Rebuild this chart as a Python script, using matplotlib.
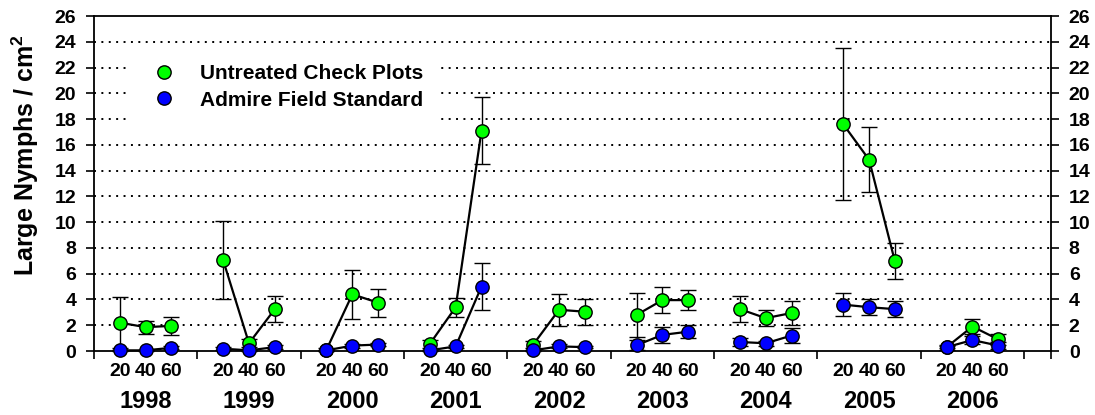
import matplotlib
matplotlib.use('Agg')
from matplotlib import pyplot as plt
from matplotlib.lines import Line2D

plt.rcParams['font.family'] = 'Liberation Sans'
plt.rcParams['font.weight'] = 'bold'
plt.rcParams['mathtext.fontset'] = 'custom'
plt.rcParams['mathtext.bf'] = 'Liberation Sans:bold'
plt.rcParams['mathtext.rm'] = 'Liberation Sans:bold'
plt.rcParams['mathtext.default'] = 'bf'

years = ['1998', '1999', '2000', '2001', '2002', '2003', '2004', '2005', '2006']
days = [20, 40, 60]

# untreated check plots (mean, +/- error)
check_mean = [[2.2, 1.85, 1.95], [7.05, 0.6, 3.25], [0.1, 4.4, 3.75],
              [0.55, 3.4, 17.1], [0.5, 3.2, 3.05], [2.8, 3.95, 3.95],
              [3.25, 2.55, 2.95], [17.6, 14.85, 6.95], [0.3, 1.9, 0.9]]
check_err = [[2.0, 0.5, 0.7], [3.05, 0.3, 1.0], [0.1, 1.9, 1.1],
             [0.3, 0.75, 2.6], [0.3, 1.25, 1.0], [1.7, 1.0, 0.8],
             [1.0, 0.6, 0.9], [5.9, 2.5, 1.4], [0.2, 0.6, 0.4]]

# admire field standard
admire_mean = [[0.05, 0.05, 0.25], [0.18, 0.05, 0.3], [0.05, 0.42, 0.5],
               [0.05, 0.36, 5.0], [0.05, 0.36, 0.3], [0.45, 1.25, 1.5],
               [0.7, 0.6, 1.2], [3.6, 3.4, 3.25], [0.3, 0.85, 0.42]]
admire_err = [[0.05, 0.05, 0.1], [0.1, 0.05, 0.15], [0.05, 0.15, 0.15],
              [0.05, 0.1, 1.8], [0.05, 0.15, 0.1], [0.4, 0.6, 0.5],
              [0.3, 0.2, 0.55], [0.9, 0.6, 0.6], [0.1, 0.3, 0.3]]

GREEN = '#00ff00'
BLUE = '#0000ff'
XMAX = 9.26

fig = plt.figure(figsize=(10.95, 4.15), dpi=100)
ax = fig.add_axes([0.0858, 0.1542, 0.874, 0.8072])

ax.set_xlim(0, XMAX)
ax.set_ylim(0, 26)

for y in range(2, 26, 2):
    ax.axhline(y, color='black', lw=1.4, ls=(0, (1, 2.8)), zorder=1)

minor_pos = []
minor_lab = []
for i in range(len(years)):
    xs = [i + d / 80 for d in days]
    minor_pos += xs
    minor_lab += [str(d) for d in days]
    for mean, err, col, z in [(check_mean[i], check_err[i], GREEN, 3),
                              (admire_mean[i], admire_err[i], BLUE, 4)]:
        eb = ax.errorbar(xs, mean, yerr=err, color='black', lw=1.6,
                         elinewidth=1, capsize=5.5, capthick=1,
                         marker='o', ms=9.6, mfc=col, mec='black', mew=1,
                         zorder=z)
        for a in eb.get_children():
            a.set_clip_on(False)
    ax.text(i + 0.5, -0.152, years[i], transform=ax.get_xaxis_transform(),
            ha='center', va='center', fontsize=17, fontweight='bold')

ax.set_xticks(list(range(0, 10)) + [XMAX])
ax.set_xticklabels([])
ax.set_xticks(minor_pos, minor=True)
ax.set_xticklabels(minor_lab, minor=True)
ax.tick_params(axis='x', which='major', direction='out', length=5.8, width=1.2)
ax.tick_params(axis='x', which='minor', length=0, pad=8.5, labelsize=14)

ax.set_yticks(range(0, 27, 2))
ax.tick_params(axis='y', direction='out', length=5.8, width=1.2, pad=7,
               labelsize=14, left=True, right=True,
               labelleft=True, labelright=True)

for s in ax.spines.values():
    s.set_linewidth(1.3)

ax.set_ylabel('Large Nymphs / cm$^2$', fontsize=18, fontweight='bold')
ax.yaxis.set_label_coords(-0.055, 0.585)

handles = [Line2D([], [], ls='none', marker='o', ms=9.6, mfc=GREEN, mec='black'),
           Line2D([], [], ls='none', marker='o', ms=9.6, mfc=BLUE, mec='black')]
leg = ax.legend(handles, ['Untreated Check Plots', 'Admire Field Standard'],
                loc='upper left', bbox_to_anchor=(0.027, 0.924),
                prop={'size': 15, 'weight': 'bold'}, frameon=True,
                facecolor='white', edgecolor='none', framealpha=1,
                fancybox=False, labelspacing=0.35, handletextpad=0.75,
                borderpad=0.6)
leg.set_zorder(5)

fig.savefig('out.png', dpi=100)
